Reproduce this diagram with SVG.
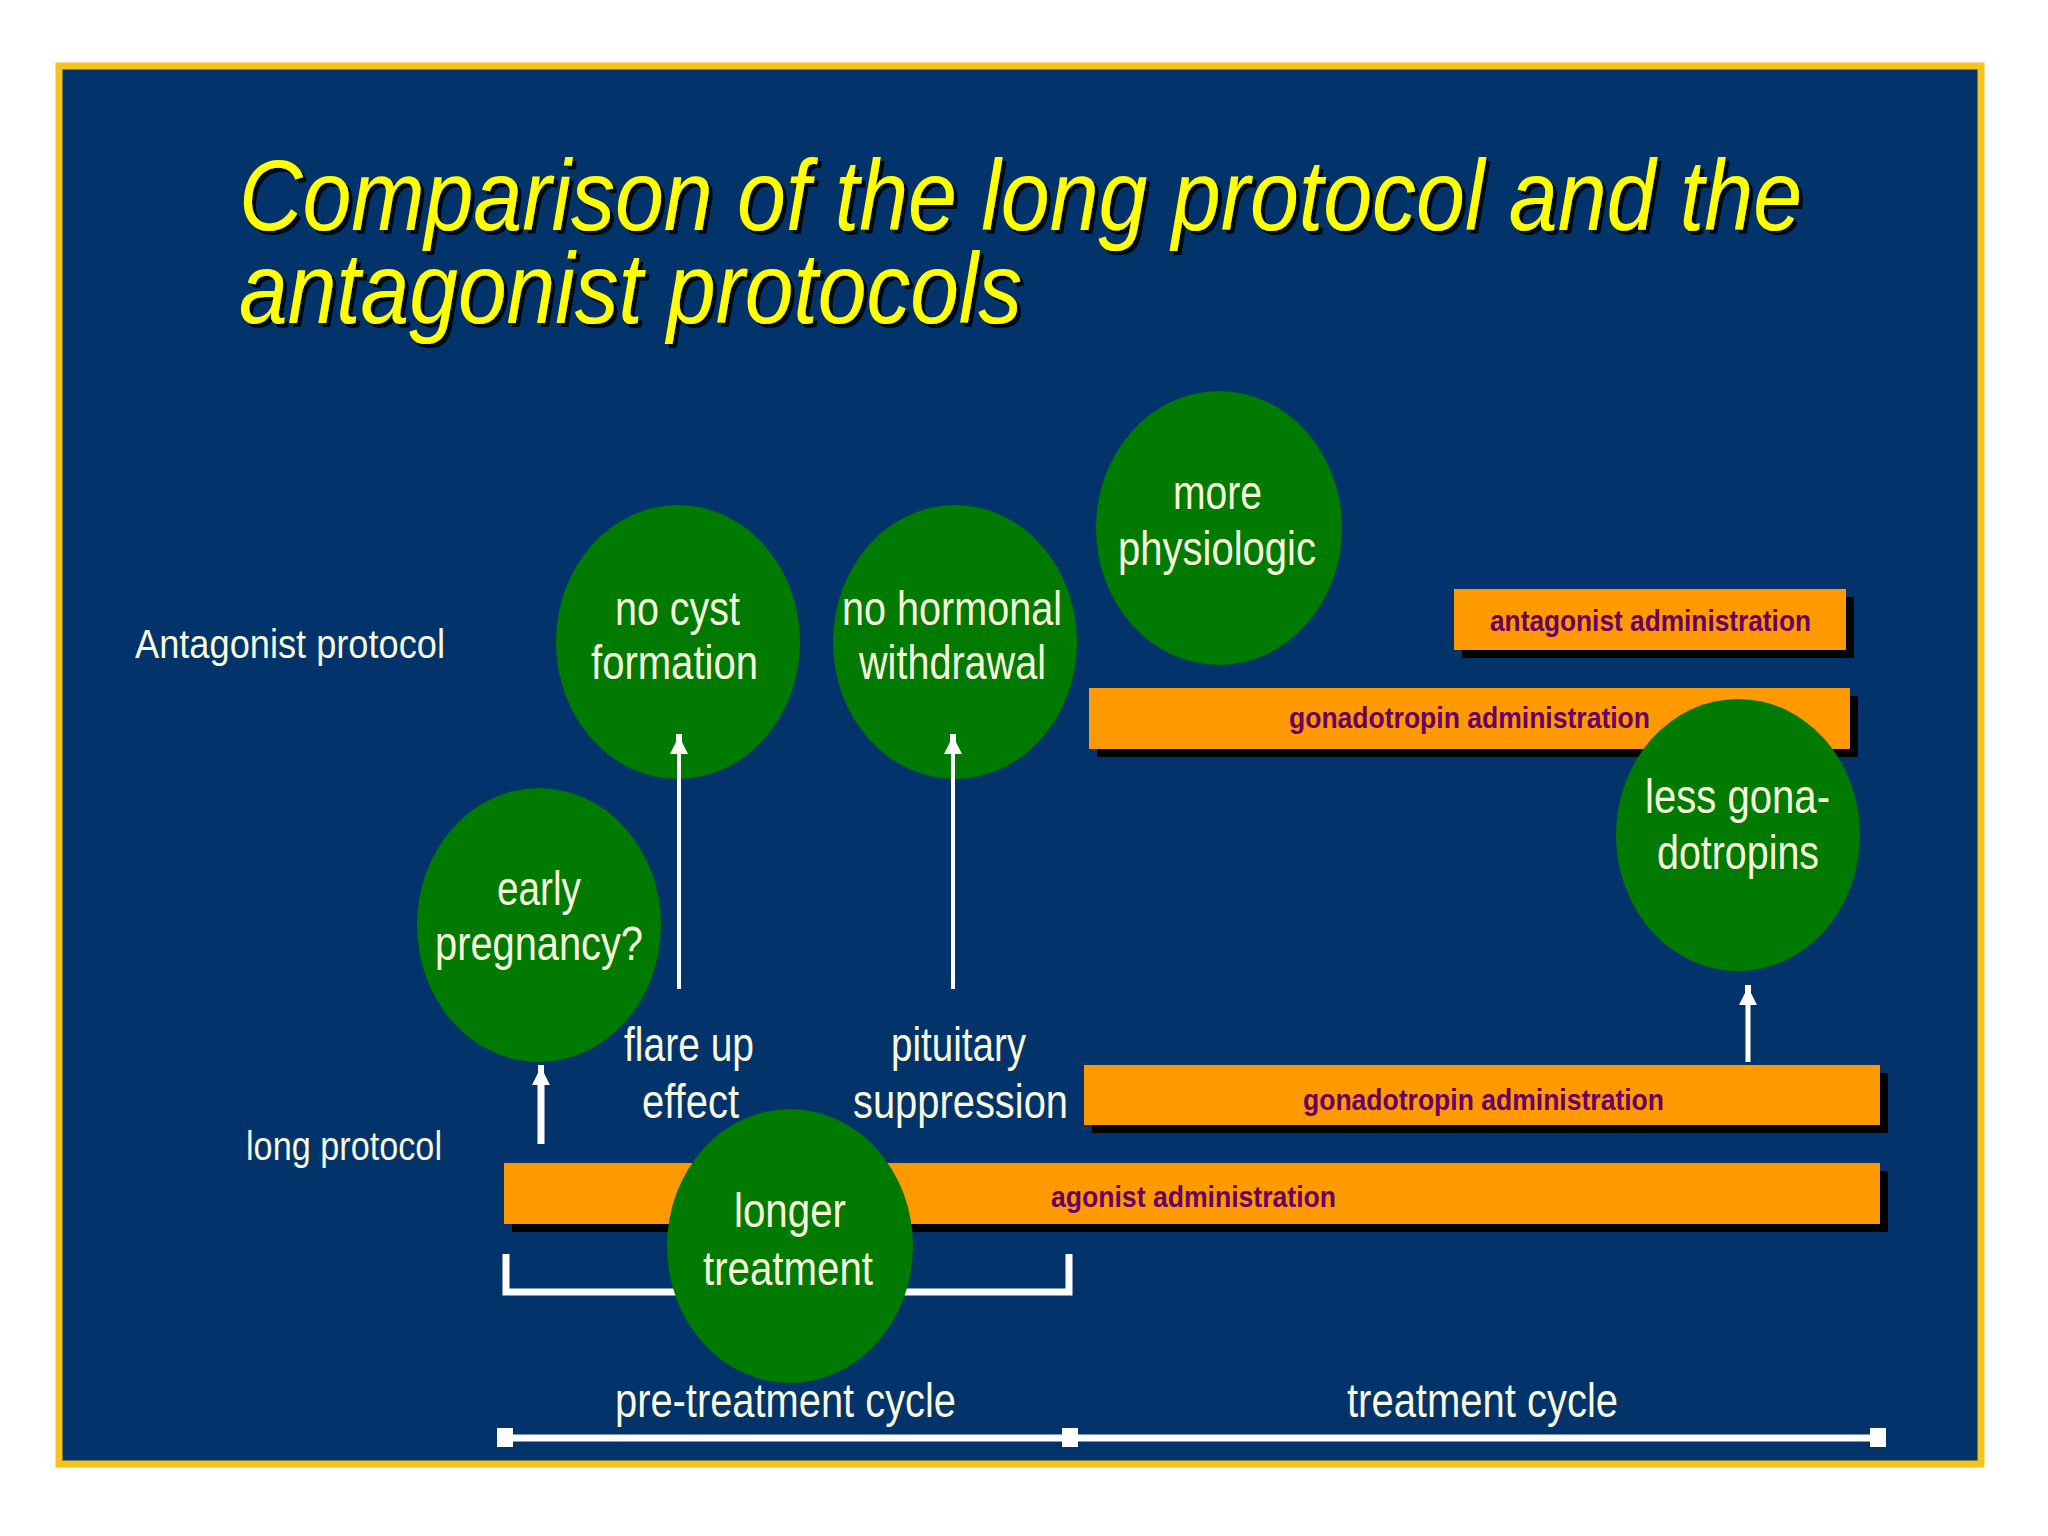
<svg xmlns="http://www.w3.org/2000/svg" width="2048" height="1536" viewBox="0 0 2048 1536">
  <defs>
    <style>
      .title { font-family: "Liberation Sans", Arial, sans-serif; font-style: italic; font-size: 101px; fill: #FFFF00; }
      .lbl { font-family: "Liberation Sans", Arial, sans-serif; font-size: 48px; fill: #F8F8DC; }
      .side { font-family: "Liberation Sans", Arial, sans-serif; font-size: 40px; fill: #F8F8DC; }
      .bartxt { font-family: "Liberation Sans", Arial, sans-serif; font-size: 30px; font-weight: bold; fill: #660066; }
      .bar { fill: #FF9900; }
      .shadow { fill: #000000; }
      .node { fill: #007A00; }
      .arrow { stroke: #FFFFFF; fill: none; marker-end: url(#head); }
      .white { stroke: #FFFFFF; fill: none; }
      .tick { fill: #FFFFFF; }
    </style>
    <filter id="tsh" x="-5%" y="-20%" width="110%" height="140%">
      <feDropShadow dx="4" dy="4" stdDeviation="0.5" flood-color="#000000" flood-opacity="0.85"/>
    </filter>
    <marker id="head" markerUnits="userSpaceOnUse" markerWidth="20" markerHeight="18" viewBox="0 0 20 18" refX="10" refY="9" orient="auto">
      <polygon points="0,0 12,6 20,6 20,12 12,12 0,18" fill="#FFFFFF"/>
    </marker>
  </defs>

  <rect x="0" y="0" width="2048" height="1536" fill="#FFFFFF"/>
  <rect id="frame" x="59" y="66" width="1922" height="1398" fill="#02336A" stroke="#F7C21A" stroke-width="7"/>

  <g id="title" filter="url(#tsh)">
    <text class="title" x="239" y="230" textLength="1563" lengthAdjust="spacingAndGlyphs">Comparison of the long protocol and the</text>
    <text class="title" x="239" y="323" textLength="783" lengthAdjust="spacingAndGlyphs">antagonist protocols</text>
  </g>

  <g id="row-labels">
    <text class="side" x="135" y="658" textLength="310" lengthAdjust="spacingAndGlyphs">Antagonist protocol</text>
    <text class="side" x="246" y="1160" textLength="196" lengthAdjust="spacingAndGlyphs">long protocol</text>
  </g>

  <g id="bar-antagonist-admin">
    <rect class="shadow" x="1462" y="597" width="392" height="61"/>
    <rect class="bar" x="1454" y="589" width="392" height="61"/>
    <text class="bartxt" x="1490" y="631" textLength="321" lengthAdjust="spacingAndGlyphs">antagonist administration</text>
  </g>
  <g id="bar-gonadotropin-antagonist">
    <rect class="shadow" x="1097" y="696" width="761" height="61"/>
    <rect class="bar" x="1089" y="688" width="761" height="61"/>
    <text class="bartxt" x="1289" y="728" textLength="361" lengthAdjust="spacingAndGlyphs">gonadotropin administration</text>
  </g>
  <g id="bar-gonadotropin-long">
    <rect class="shadow" x="1092" y="1073" width="796" height="60"/>
    <rect class="bar" x="1084" y="1065" width="796" height="60"/>
    <text class="bartxt" x="1303" y="1110" textLength="361" lengthAdjust="spacingAndGlyphs">gonadotropin administration</text>
  </g>
  <g id="bar-agonist">
    <rect class="shadow" x="512" y="1171" width="1376" height="61"/>
    <rect class="bar" x="504" y="1163" width="1376" height="61"/>
    <text class="bartxt" x="1051" y="1207" textLength="285" lengthAdjust="spacingAndGlyphs">agonist administration</text>
  </g>

  <g id="connectors">
    <path class="white" d="M506,1254 V1292 H1069 V1254" stroke-width="7"/>
    <line class="white" x1="504" y1="1438" x2="1880" y2="1438" stroke-width="7"/>
    <rect class="tick" x="497" y="1428" width="16" height="19"/>
    <rect class="tick" x="1062" y="1428" width="16" height="19"/>
    <rect class="tick" x="1870" y="1428" width="16" height="19"/>
  </g>

  <g id="node-no-cyst">
    <ellipse class="node" cx="678" cy="642" rx="122" ry="137"/>
    <text class="lbl" x="615" y="625" textLength="125" lengthAdjust="spacingAndGlyphs">no cyst</text>
    <text class="lbl" x="591" y="679" textLength="167" lengthAdjust="spacingAndGlyphs">formation</text>
  </g>
  <g id="node-no-hormonal">
    <ellipse class="node" cx="955" cy="642" rx="122" ry="137"/>
    <text class="lbl" x="842" y="625" textLength="220" lengthAdjust="spacingAndGlyphs">no hormonal</text>
    <text class="lbl" x="859" y="679" textLength="187" lengthAdjust="spacingAndGlyphs">withdrawal</text>
  </g>
  <g id="node-early-pregnancy">
    <ellipse class="node" cx="539" cy="925" rx="122" ry="137"/>
    <text class="lbl" x="497" y="905" textLength="84" lengthAdjust="spacingAndGlyphs">early</text>
    <text class="lbl" x="435" y="960" textLength="208" lengthAdjust="spacingAndGlyphs">pregnancy?</text>
  </g>
  <g id="node-more-physiologic">
    <ellipse class="node" cx="1219" cy="528" rx="123" ry="137"/>
    <text class="lbl" x="1173" y="509" textLength="89" lengthAdjust="spacingAndGlyphs">more</text>
    <text class="lbl" x="1118" y="565" textLength="198" lengthAdjust="spacingAndGlyphs">physiologic</text>
  </g>
  <g id="node-less-gonadotropins">
    <ellipse class="node" cx="1738" cy="835" rx="122" ry="136"/>
    <text class="lbl" x="1645" y="813" textLength="185" lengthAdjust="spacingAndGlyphs">less gona-</text>
    <text class="lbl" x="1657" y="869" textLength="162" lengthAdjust="spacingAndGlyphs">dotropins</text>
  </g>
  <g id="node-longer-treatment">
    <ellipse class="node" cx="790" cy="1246" rx="123" ry="137"/>
    <text class="lbl" x="734" y="1227" textLength="112" lengthAdjust="spacingAndGlyphs">longer</text>
    <text class="lbl" x="703" y="1285" textLength="170" lengthAdjust="spacingAndGlyphs">treatment</text>
  </g>

  <g id="arrows">
    <line class="arrow" x1="679" y1="989" x2="679" y2="744" stroke-width="4"/>
    <line class="arrow" x1="953" y1="989" x2="953" y2="744" stroke-width="4"/>
    <line class="arrow" x1="541" y1="1144" x2="541" y2="1075" stroke-width="7"/>
    <line class="arrow" x1="1748" y1="1062" x2="1748" y2="995" stroke-width="5"/>
  </g>

  <g id="annotations">
    <text class="lbl" x="624" y="1061" textLength="130" lengthAdjust="spacingAndGlyphs">flare up</text>
    <text class="lbl" x="642" y="1118" textLength="97" lengthAdjust="spacingAndGlyphs">effect</text>
    <text class="lbl" x="891" y="1061" textLength="135" lengthAdjust="spacingAndGlyphs">pituitary</text>
    <text class="lbl" x="853" y="1118" textLength="215" lengthAdjust="spacingAndGlyphs">suppression</text>
    <text class="lbl" x="615" y="1417" textLength="341" lengthAdjust="spacingAndGlyphs">pre-treatment cycle</text>
    <text class="lbl" x="1347" y="1417" textLength="271" lengthAdjust="spacingAndGlyphs">treatment cycle</text>
  </g>
</svg>
